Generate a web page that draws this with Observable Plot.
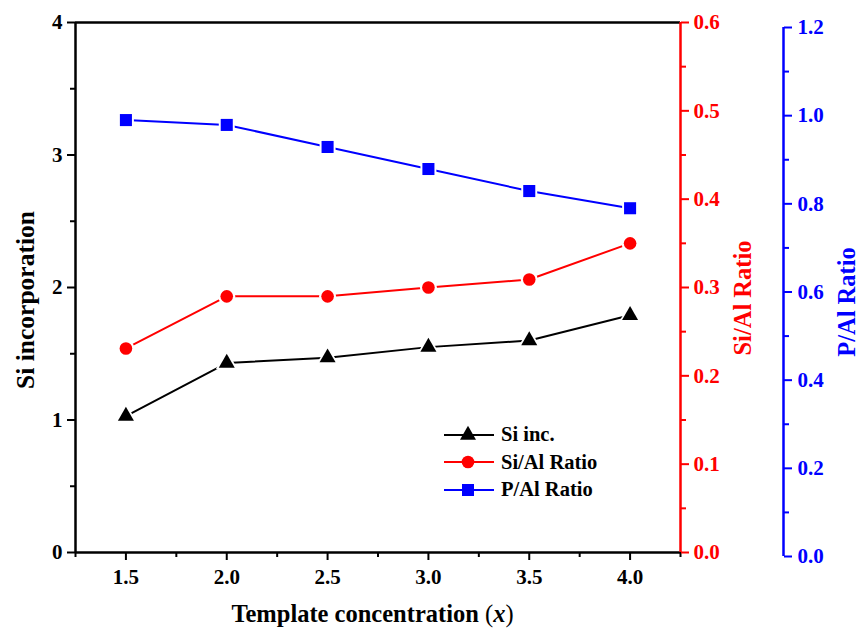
<!DOCTYPE html>
<html><head><meta charset="utf-8">
<script src="https://cdn.jsdelivr.net/npm/d3@7"></script>
<script src="https://cdn.jsdelivr.net/npm/@observablehq/plot@0.6"></script>
<style>
html,body{margin:0;padding:0;background:#fff;}
#chart{position:relative;width:858px;height:631px;font-family:"Liberation Serif","Times New Roman",serif;font-weight:bold;}
#chart > svg{position:absolute;left:0;top:0;}
#legend{position:absolute;left:443px;top:421px;font-size:20.5px;font-weight:bold;font-family:"Liberation Serif","Times New Roman",serif;}
#legend .row{display:flex;align-items:center;height:27.5px;}
#legend svg{display:block;margin-right:6px;}
</style></head><body><div id="chart"><div id="legend"></div></div>
<script>
// ---- data ----
const templateConc = [1.5, 2.0, 2.5, 3.0, 3.5, 4.0];
const siIncorporation = [1.03, 1.43, 1.47, 1.55, 1.60, 1.79];
const siAlRatio = [0.231, 0.290, 0.290, 0.300, 0.309, 0.350];
const pAlRatio = [0.990, 0.979, 0.929, 0.879, 0.829, 0.790];
const seriesNames = ["Si inc.", "Si/Al Ratio", "P/Al Ratio"];
const seriesColors = ["#000000", "#ff0000", "#0000ff"];
const seriesSymbols = ["triangle", "circle", "square"];
const xDomain = [1.25, 4.25];
const xTicks = [1.5, 2.0, 2.5, 3.0, 3.5, 4.0];
const xMinorTicks = [1.25, 1.75, 2.25, 2.75, 3.25, 3.75, 4.25];
const leftDomain = [0, 4];
const leftTicks = [0, 1, 2, 3, 4];
const leftMinorTicks = [0.5, 1.5, 2.5, 3.5];
const redDomain = [0, 0.6];
const redTicks = [0, 0.1, 0.2, 0.3, 0.4, 0.5, 0.6];
const redMinorTicks = [0.05, 0.15, 0.25, 0.35, 0.45, 0.55];
const blueDomain = [0, 1.2];
const blueTicks = [0, 0.2, 0.4, 0.6, 0.8, 1.0, 1.2];
const blueMinorTicks = [0.1, 0.3, 0.5, 0.7, 0.9, 1.1];
const xTitle = "Template concentration ";
const xTitleItalic = "x";
const leftTitle = "Si incorporation";
const redTitle = "Si/Al Ratio";
const blueTitle = "P/Al Ratio";

// ---- layout / style ----
const W = 858, H = 631, ML = 75, MR = 178, MT = 22, MB = 79;
const FONT = '"Liberation Serif","Times New Roman",serif';
const TITLE_SIZE = 24.5;
const style = {fontFamily: FONT, fontWeight: "bold", fontSize: "21px", background: "transparent", overflow: "visible"};
const symR = {triangle: 5.95, circle: 6.3, square: 6.8};
const rows = templateConc.map((x, i) => ({x, si: siIncorporation[i], siAl: siAlRatio[i], pAl: pAlRatio[i]}));

function seriesMarks(key, color, symbol) {
  return [
    Plot.line(rows, {x: "x", y: key, stroke: color, strokeWidth: 2}),
    Plot.dot(rows, {x: "x", y: key, symbol, r: symR[symbol] + 2.2, fill: "white", stroke: "none"}),
    Plot.dot(rows, {x: "x", y: key, symbol, r: symR[symbol], fill: color, stroke: "none"})
  ];
}

const chart = document.getElementById("chart");
const legend = document.getElementById("legend");

// main plot (black, left axis, x axis)
const main = Plot.plot({
  width: W, height: H, marginLeft: ML, marginRight: MR, marginTop: MT, marginBottom: MB,
  style,
  x: {domain: xDomain, label: null},
  y: {domain: leftDomain, label: null},
  marks: [
    Plot.ruleY([leftDomain[0]], {stroke: "black", strokeWidth: 2.5}),
    Plot.ruleY([leftDomain[1]], {stroke: "black", strokeWidth: 2.5}),
    Plot.ruleX([xDomain[0]], {stroke: "black", strokeWidth: 2.5}),
    Plot.axisX(xTicks, {tickSize: 8, tickPadding: 9, strokeWidth: 2, tickFormat: d => d.toFixed(1), label: null, fill: "black"}),
    Plot.axisX(xMinorTicks, {tickSize: 5, strokeWidth: 2, tickFormat: () => "", label: null}),
    Plot.axisY(leftTicks, {anchor: "left", tickSize: 8, tickPadding: 5, strokeWidth: 2, tickFormat: d => String(d), label: null, fill: "black"}),
    Plot.axisY(leftMinorTicks, {anchor: "left", tickSize: 5, strokeWidth: 2, tickFormat: () => "", label: null}),
    ...seriesMarks("si", seriesColors[0], seriesSymbols[0])
  ]
});

// red plot
const red = Plot.plot({
  width: W, height: H, marginLeft: ML, marginRight: MR, marginTop: MT, marginBottom: MB,
  style,
  x: {domain: xDomain, label: null, axis: null},
  y: {domain: redDomain, label: null},
  marks: [
    Plot.ruleX([xDomain[1]], {stroke: seriesColors[1], strokeWidth: 2.5}),
    Plot.axisY(redTicks, {anchor: "right", tickSize: 8, tickPadding: 5, strokeWidth: 2, stroke: seriesColors[1], fill: seriesColors[1], tickFormat: d3.format(".1f"), label: null}),
    Plot.axisY(redMinorTicks, {anchor: "right", tickSize: 5, strokeWidth: 2, stroke: seriesColors[1], tickFormat: () => "", label: null}),
    ...seriesMarks("siAl", seriesColors[1], seriesSymbols[1])
  ]
});

// blue plot (axis offset to the right)
const BLUE_DX = 103, BLUE_MT = 27, BLUE_MB = 75;
const blue = Plot.plot({
  width: W, height: H, marginLeft: ML, marginRight: MR, marginTop: BLUE_MT, marginBottom: BLUE_MB,
  style,
  x: {domain: xDomain, label: null, axis: null},
  y: {domain: blueDomain, label: null},
  marks: [
    Plot.ruleX([xDomain[1]], {dx: BLUE_DX, stroke: seriesColors[2], strokeWidth: 2.5}),
    Plot.axisY(blueTicks, {anchor: "right", dx: BLUE_DX, tickSize: 8, tickPadding: 6, strokeWidth: 2, stroke: seriesColors[2], fill: seriesColors[2], tickFormat: d3.format(".1f"), label: null}),
    Plot.axisY(blueMinorTicks, {anchor: "right", dx: BLUE_DX, tickSize: 5, strokeWidth: 2, stroke: seriesColors[2], tickFormat: () => "", label: null}),
    ...seriesMarks("pAl", seriesColors[2], seriesSymbols[2])
  ]
});

chart.insertBefore(main, legend);
chart.insertBefore(red, legend);
chart.insertBefore(blue, legend);

// axis titles
const xs = main.scale("x").range;
const ys = main.scale("y").range;
const xMid = (xs[0] + xs[1]) / 2;
const yMid = (ys[0] + ys[1]) / 2;
const svgMain = d3.select(main);
const xt = svgMain.append("text")
  .attr("x", xMid - 5).attr("y", 622)
  .attr("text-anchor", "middle")
  .attr("font-size", TITLE_SIZE).attr("font-weight", "bold").attr("font-family", FONT).attr("fill", "black");
xt.append("tspan").text(xTitle);
xt.append("tspan").text("(").attr("font-weight", "normal");
xt.append("tspan").text(xTitleItalic).attr("font-style", "italic");
xt.append("tspan").text(")").attr("font-weight", "normal");

svgMain.append("text")
  .attr("transform", `translate(25,${yMid + 13}) rotate(-90)`)
  .attr("text-anchor", "middle").attr("dy", "0.35em")
  .attr("font-size", TITLE_SIZE + 1).attr("font-weight", "bold").attr("font-family", FONT).attr("fill", "black")
  .text(leftTitle);

d3.select(red).append("text")
  .attr("transform", `translate(742,${yMid + 11}) rotate(-90)`)
  .attr("text-anchor", "middle").attr("dy", "0.35em")
  .attr("font-size", TITLE_SIZE).attr("font-weight", "bold").attr("font-family", FONT).attr("fill", seriesColors[1])
  .text(redTitle);

d3.select(blue).append("text")
  .attr("transform", `translate(846,${yMid + 15}) rotate(-90)`)
  .attr("text-anchor", "middle").attr("dy", "0.35em")
  .attr("font-size", TITLE_SIZE).attr("font-weight", "bold").attr("font-family", FONT).attr("fill", seriesColors[2])
  .text(blueTitle);

// legend
seriesNames.forEach((name, i) => {
  const row = d3.select(legend).append("div").attr("class", "row");
  const s = row.append("svg").attr("width", 52).attr("height", 22);
  s.append("line").attr("x1", 1).attr("x2", 51).attr("y1", 11).attr("y2", 11)
    .attr("stroke", seriesColors[i]).attr("stroke-width", 2);
  const sym = {triangle: d3.symbolTriangle, circle: d3.symbolCircle, square: d3.symbolSquare}[seriesSymbols[i]];
  const r = symR[seriesSymbols[i]];
  s.append("path").attr("transform", "translate(25,11)")
    .attr("d", d3.symbol(sym, Math.PI * r * r)()).attr("fill", seriesColors[i]);
  row.append("span").text(name);
});
</script></body></html>
